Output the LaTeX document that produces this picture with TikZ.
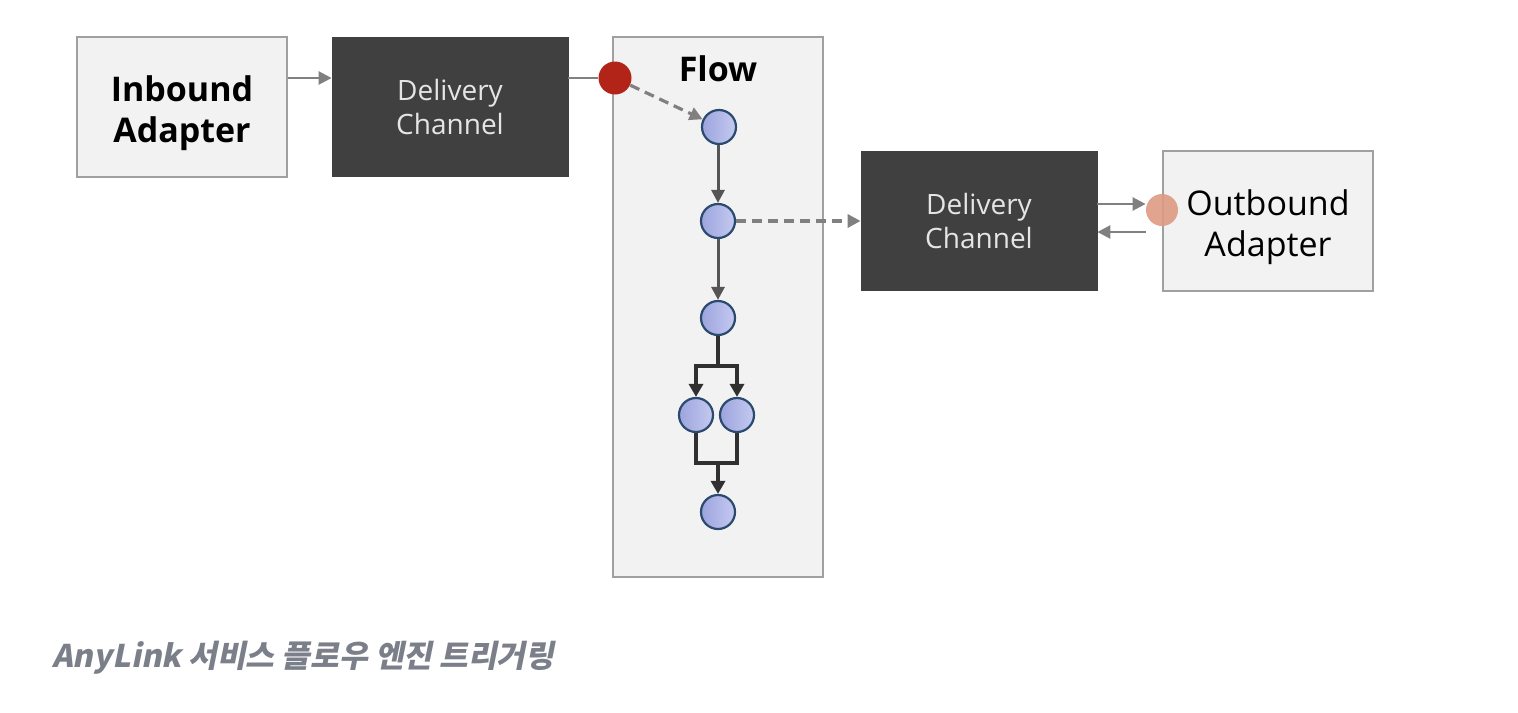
\documentclass[tikz,border=0pt]{standalone}
\usepackage{fontspec}
\setmainfont{Open Sans}
\newfontfamily\krfont[FakeSlant=0.2]{Noto Sans CJK KR}
\usetikzlibrary{arrows.meta}
\definecolor{boxfill}{HTML}{F2F2F2}
\definecolor{boxline}{HTML}{A0A0A0}
\definecolor{dark}{HTML}{404040}
\definecolor{arrgray}{HTML}{808080}
\definecolor{reddot}{HTML}{B22418}
\definecolor{orangedot}{HTML}{DE9A82}
\definecolor{blueA}{HTML}{9CA4DE}
\definecolor{blueB}{HTML}{C4CAF0}
\definecolor{blueline}{HTML}{2C4A6E}
\definecolor{captiongray}{HTML}{7A7F8A}
\definecolor{flowarr}{HTML}{555555}
\definecolor{forkarr}{HTML}{303030}
\tikzset{
  lightbox/.style={draw=boxline, line width=1pt, fill=boxfill, minimum width=105pt, minimum height=70pt, inner sep=0pt, align=center},
  darkbox/.style={draw=dark, fill=dark, minimum width=118pt, minimum height=69.5pt, inner sep=0pt, align=center, text=white!90!black, font=\fontsize{14}{17}\selectfont},
  task/.style={circle, draw=blueline, line width=1.1pt, left color=blueA, right color=blueB, minimum size=17pt, inner sep=0pt},
  grayarrow/.style={draw=arrgray, line width=1.3pt, -{Triangle[length=6.5pt,width=6.5pt]}},
  dasharrow/.style={draw=arrgray, line width=1.6pt, dash pattern=on 5pt off 3pt, -{Triangle[length=6.5pt,width=6.5pt]}},
  flowarrow/.style={draw=flowarr, line width=1.5pt, -{Triangle[length=6.5pt,width=6.5pt]}},
  forkline/.style={draw=forkarr, line width=1.8pt},
  forkarrow/.style={draw=forkarr, line width=1.8pt, -{Triangle[length=6.5pt,width=7pt]}},
}
\begin{document}
\begin{tikzpicture}[x=0.5pt,y=-0.5pt]
\useasboundingbox (0,0) rectangle (1518,712);
% boxes
\node[lightbox] (inb) at (182,107) {};
\node[font=\fontsize{17}{20.5}\selectfont\bfseries, align=center, inner sep=0pt] (inbt) at (182,113) {Inbound\\Adapter};
\node[darkbox] (dc1) at (450,107) {Delivery\\Channel};
\node[lightbox, minimum width=105pt, minimum height=270pt] (flow) at (718,307) {};
\node[font=\fontsize{17}{19}\selectfont\bfseries, anchor=base] (flowlbl) at (718,81) {Flow};
\node[darkbox] (dc2) at (979,220.5) {Delivery\\Channel};
\node[lightbox] (outb) at (1268,220.5) {};
\node[font=\fontsize{17}{20.5}\selectfont, align=center, inner sep=0pt] (outbt) at (1268,227) {Outbound\\Adapter};
% dots
\node[circle, fill=reddot, minimum size=16.5pt, inner sep=0pt] (rdot) at (615,78) {};
\node[circle, fill=orangedot, opacity=0.9, minimum size=16pt, inner sep=0pt] (odot) at (1162,210) {};
% tasks
\node[task] (t1) at (719,127) {};
\node[task] (t2) at (718,221) {};
\node[task] (t3) at (718,318) {};
\node[task] (t4a) at (696,415) {};
\node[task] (t4b) at (737,415) {};
\node[task] (t5) at (718,512) {};
% connectors
\draw[grayarrow] (inb.east |- 0,78) -- (dc1.west |- 0,78);
\draw[draw=arrgray, line width=1.3pt] (dc1.east |- rdot) -- (rdot.west);
\draw[dasharrow] (rdot) -- (t1);
\draw[flowarrow] (t1.south -| t2) -- (t2);
\draw[flowarrow] (t2) -- (t3);
\draw[dasharrow] (t2.east) -- (dc2.west |- t2);
\draw[grayarrow] (dc2.east |- 0,204) -- (odot.west |- 0,204);
\draw[grayarrow] (odot.west |- 0,232) -- (dc2.east |- 0,232);
% fork / join
\coordinate (fk) at (718,366);
\coordinate (jn) at (718,463);
\draw[forkline] (t3.south) -- (fk);
\draw[forkarrow] (fk) -| (t4a.north);
\draw[forkarrow] (fk) -| (t4b.north);
\draw[forkline] (t4a.south) |- (jn) -| (t4b.south);
\draw[forkarrow] (jn) -- (t5.north);
% caption
\node[anchor=base west, text=captiongray, font=\krfont\bfseries\fontsize{15.6}{17}\selectfont, inner sep=0pt] (cap) at (52,667) {AnyLink 서비스 플로우 엔진 트리거링};
\end{tikzpicture}
\end{document}
